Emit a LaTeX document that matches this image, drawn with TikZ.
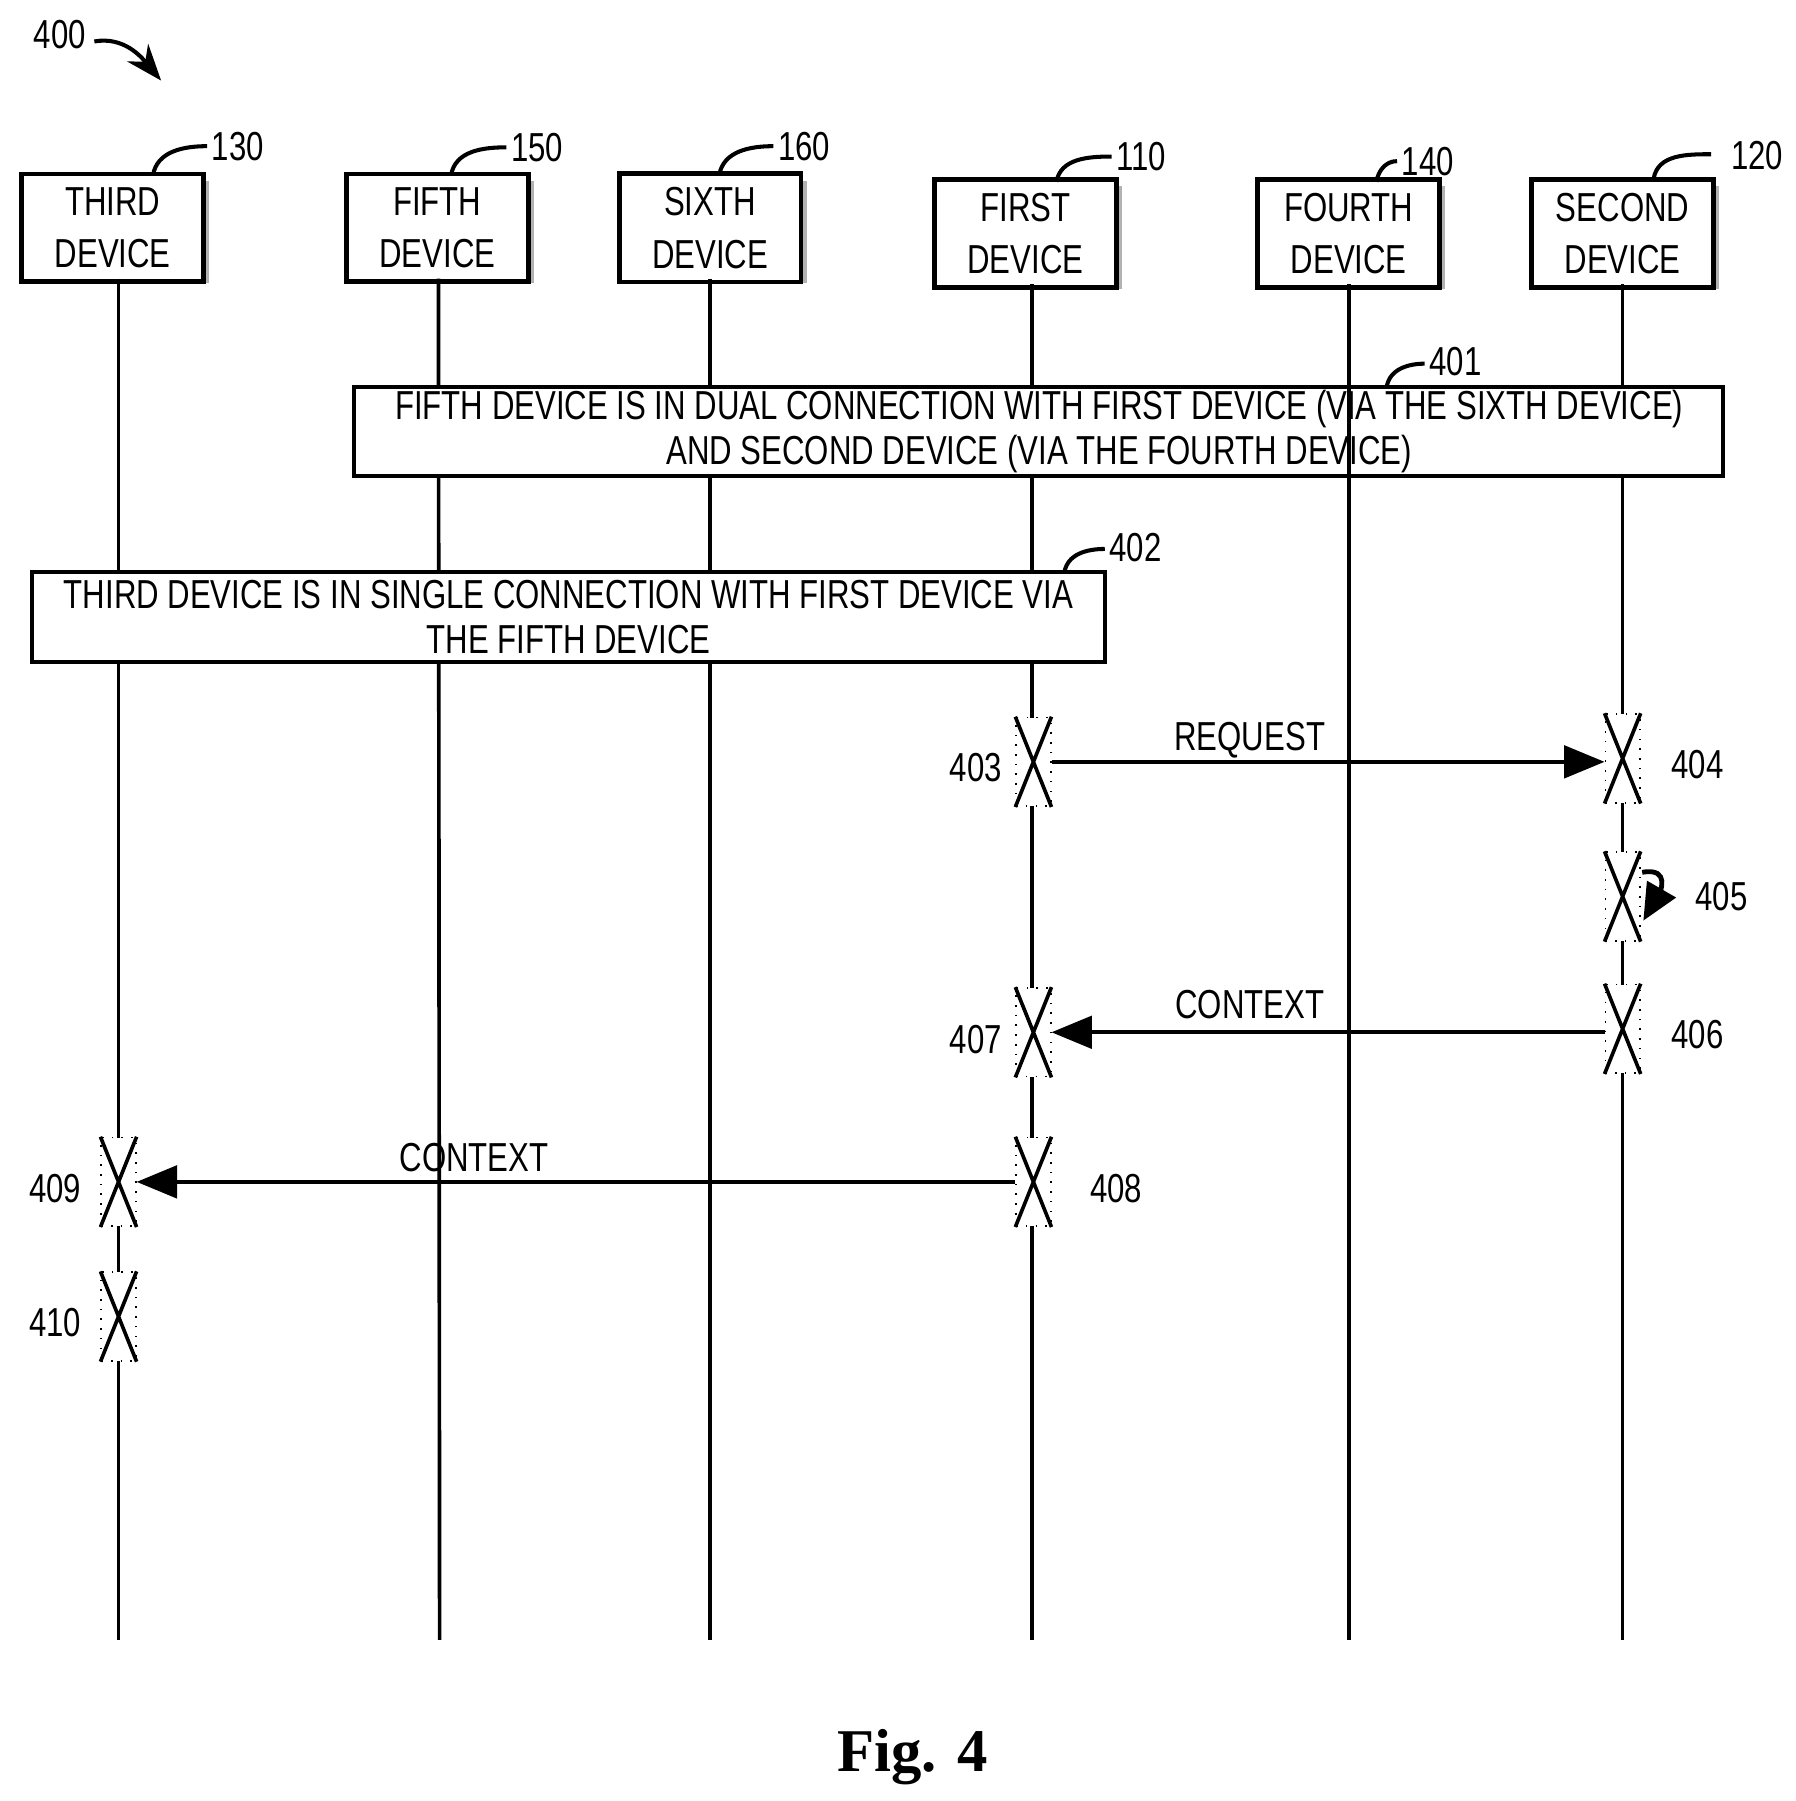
\documentclass[tikz,border=0pt]{standalone}
\usepackage{fontspec}
\setmainfont{Liberation Sans}[FakeStretch=0.77]
\newfontfamily\figfont{Liberation Serif}
\usetikzlibrary{arrows.meta}
\begin{document}
\begin{tikzpicture}[x=0.01cm,y=-0.01cm,font=\fontsize{10}{14}\selectfont,
 dev/.style={draw,line width=1.2pt,minimum width=1.58cm,minimum height=0.88cm,align=center,fill=white},
 shadow/.style={fill=gray!60},
 life/.style={line width=0.9pt},
 act/.style={draw,dotted,fill=white,minimum width=0.3cm,minimum height=0.77cm,inner sep=0},
 msg/.style={line width=1pt,-{Triangle[length=10pt,width=8pt]}},
 note/.style={draw,line width=1pt,fill=white},
 tag/.style={line width=1pt}]
\useasboundingbox (0,0) rectangle (1560,1565);
% device boxes with shadows
\foreach \n/\x/\y/\t in {d130/98/198/THIRD,d150/380/198/FIFTH,d160/617/198/SIXTH,d110/891/203/FIRST,d140/1172/203/FOURTH,d120/1410/203/SECOND}{
  \fill[shadow] (\x-76,\y-41) rectangle (\x+84,\y+48);
  \node[dev] (\n) at (\x,\y) {\t\\[-1pt]DEVICE};
}
% lifelines
\coordinate (e130) at (103,1425); \coordinate (e150) at (382,1425);
\coordinate (e160) at (617,1425); \coordinate (e110) at (897,1425);
\coordinate (e140) at (1172,1425); \coordinate (e120) at (1410,1425);
\draw[life] (103,242) coordinate (s130) -- (e130);
\draw[life] (381,242) coordinate (s150) -- (e150);
\draw[life] (617,242) coordinate (s160) -- (e160);
\draw[life] (897,247) coordinate (s110) -- (e110);
\draw[life] (1410,247) coordinate (s120) -- (e120);
% reference tags
\node (t400) at (52,30) {400};
\draw[tag,-{Stealth[length=9pt]}] (82,36) to[out=10,in=130] (140,70);
\draw[tag] (133,152) to[out=80,in=180] (180,127);
\draw[tag] (392,152) to[out=80,in=180] (440,128);
\draw[tag] (625,152) to[out=80,in=180] (672,127);
\draw[tag] (918,158) to[out=80,in=180] (966,136);
\draw[tag] (1196,158) to[out=80,in=180] (1214,140);
\draw[tag] (1437,155) to[out=80,in=180] (1487,134);
\node[anchor=west,inner sep=1pt] at (180,127) {130};
\node[anchor=west,inner sep=1pt] at (440,128) {150};
\node[anchor=west,inner sep=1pt] at (672,127) {160};
\node[anchor=west,inner sep=1pt] at (966,136) {110};
\node[anchor=west,inner sep=1pt] at (1214,140) {140};
\node[anchor=west,inner sep=1pt] at (1500,135) {120};
% notes
\draw[note] (308,336) rectangle (1497,414);
\node[align=center] (n401) at (903,375)
 {FIFTH DEVICE IS IN DUAL CONNECTION WITH FIRST DEVICE (VIA THE SIXTH DEVICE)\\[-3pt]AND SECOND DEVICE (VIA THE FOURTH DEVICE)};
\draw[tag] (1205,336) to[out=80,in=180] (1238,316);
\node[anchor=west,inner sep=1pt] at (1238,314) {401};
\draw[note] (28,497) rectangle (960,575);
\node[align=center] (n402) at (494,536)
 {THIRD DEVICE IS IN SINGLE CONNECTION WITH FIRST DEVICE VIA\\[-3pt]THE FIFTH DEVICE};
\draw[tag] (925,497) to[out=80,in=180] (960,477);
\node[anchor=west,inner sep=1pt] at (960,476) {402};
\draw[life] (1172,247) coordinate (s140) -- (e140);
% activations
\foreach \n/\x/\y in {a403/898/662,a404/1410/659,a405/1410/779,a406/1410/894,a407/898/897,a408/898/1027,a409/103/1027,a410/103/1144}{
  \node[act] (\n) at (\x,\y) {};
  \draw[line width=0.9pt] (\n.north west) -- (\n.south east) (\n.north east) -- (\n.south west);
}
\node at (848,667) {403};
\node at (1475,664) {404};
\node at (1496,779) {405};
\node at (1475,899) {406};
\node at (848,903) {407};
\node at (970,1033) {408};
\node at (48,1033) {409};
\node at (48,1149) {410};
% messages
\draw[msg] (a403.east) -- (a403.east -| a404.west);
\node at (1086,643) {REQUEST};
\draw[msg] (a406.west |- 897,897) -- (a407.east);
\node at (1086,873) {CONTEXT};
\draw[msg] (a408.west) -- (a409.east);
\node at (412,1006) {CONTEXT};
\draw[line width=1.2pt,-{Triangle[length=9pt,width=8pt]}] (1427,758) to[out=10,in=60,looseness=1.6] (1428,800);
\node[font=\figfont\bfseries\fontsize{15}{18}\selectfont] at (793,1527) {Fig. 4};
\end{tikzpicture}
\end{document}
